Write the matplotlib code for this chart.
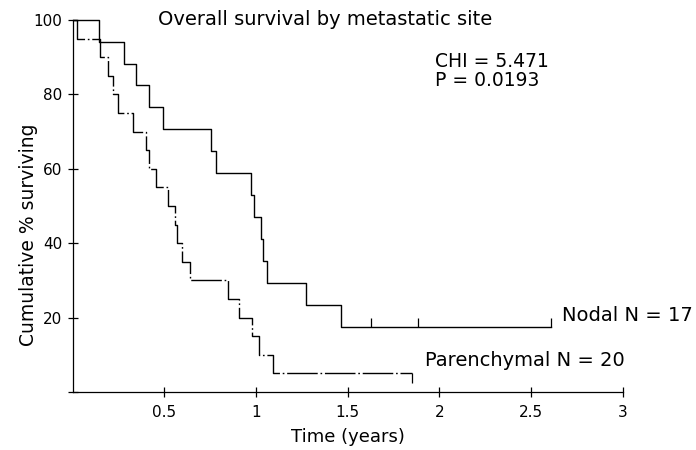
import matplotlib
matplotlib.use("Agg")
import matplotlib.pyplot as plt

# ---- data ----
nodal_t = [0, 0.146, 0.28, 0.346, 0.415, 0.495, 0.753, 0.78, 0.974, 0.99,
           1.026, 1.04, 1.058, 1.273, 1.462, 2.607]
nodal_s = [100, 94.1, 88.2, 82.4, 76.5, 70.6, 64.7, 58.8, 52.9, 47.1,
           41.2, 35.3, 29.4, 23.5, 17.6, 17.6]
nodal_cens = [1.627, 1.882, 2.607]
nodal_cens_s = [17.6, 17.6, 17.6]

par_t = [0, 0.026, 0.149, 0.195, 0.218, 0.249, 0.331, 0.40, 0.418, 0.455,
         0.522, 0.558, 0.568, 0.595, 0.64, 0.849, 0.907, 0.98, 1.016, 1.095, 1.852]
par_s = [100, 95, 90, 85, 80, 75, 70, 65, 60, 55,
         50, 45, 40, 35, 30, 25, 20, 15, 10, 5, 5]
par_cens = [1.852]
par_cens_s = [5]

x_ticks = [0.5, 1, 1.5, 2, 2.5, 3]
x_ticklabels = ["0.5", "1", "1.5", "2", "2.5", "3"]
y_ticks = [0, 20, 40, 60, 80, 100]
y_ticklabels = ["", "20", "40", "60", "80", "100"]

title = "Overall survival by metastatic site"
stat_lines = ["CHI = 5.471", "P = 0.0193"]
nodal_label = "Nodal N = 17"
par_label = "Parenchymal N = 20"

plt.rcParams['font.family'] = ['DejaVu Sans']

W, H = 696, 450
fig = plt.figure(figsize=(W / 100, H / 100), dpi=100)
x0, x1, ytop, ybot = 72.6, 622.7, 20, 392
ax = fig.add_axes([x0 / W, (H - ybot) / H, (x1 - x0) / W, (ybot - ytop) / H])

def fpx(x, y):
    return x / W, 1 - y / H

ax.step(nodal_t, nodal_s, where='post', color='black', lw=1.0, clip_on=False)
ax.step(par_t, par_s, where='post', color='black', lw=1.0, clip_on=False,
        dashes=(22, 2, 1.2, 2))
ax.vlines(nodal_cens, nodal_cens_s, [s + 2.2 for s in nodal_cens_s],
          color='black', lw=0.9)
ax.vlines(par_cens, [s - 2.6 for s in par_cens_s], par_cens_s,
          color='black', lw=0.9, clip_on=False)

ax.set_xlim(0, 3)
ax.set_ylim(0, 100)
ax.set_xticks(x_ticks)
ax.set_xticklabels(x_ticklabels)
ax.set_yticks(y_ticks)
ax.set_yticklabels(y_ticklabels)
for sp in ['top', 'right']:
    ax.spines[sp].set_visible(False)
for sp in ['left', 'bottom']:
    ax.spines[sp].set_linewidth(0.9)
ax.tick_params(axis='both', direction='inout', length=7, width=0.9,
               labelsize=11, colors='black')
ax.tick_params(axis='x', pad=6)
ax.tick_params(axis='y', pad=4)
for lbl in ax.get_xticklabels() + ax.get_yticklabels():
    lbl.set_clip_on(False)

fig.text(*fpx(158, 25), title, fontsize=14, ha='left', va='baseline')
fig.text(*fpx(435, 66.7), stat_lines[0], fontsize=13.5, ha='left', va='baseline')
fig.text(*fpx(435, 86), stat_lines[1], fontsize=13.5, ha='left', va='baseline')
fig.text(*fpx(561.5, 321), nodal_label, fontsize=14, ha='left', va='baseline')
fig.text(*fpx(425, 366.5), par_label, fontsize=14, ha='left', va='baseline')
fig.text(*fpx(348, 441.7), "Time (years)", fontsize=13, ha='center', va='baseline')
fig.text(*fpx(28.5, 235), "Cumulative % surviving", fontsize=13.5,
         ha='center', va='center', rotation=90)

fig.savefig("out.png", dpi=100)
